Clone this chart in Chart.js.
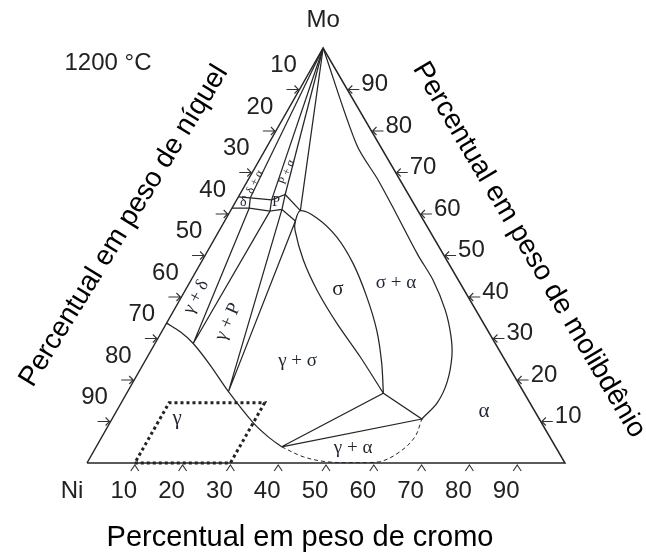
<!DOCTYPE html>
<html>
<head>
<meta charset="utf-8">
<script src="https://cdn.jsdelivr.net/npm/chart.js@4/dist/chart.umd.min.js"></script>
<style>
  html, body { margin: 0; padding: 0; background: #ffffff; }
  canvas { display: block; }
</style>
</head>
<body>
<canvas id="chart" width="646" height="556"></canvas>
<script>
// Isothermal section of the Ni–Cr–Mo system at 1200 °C.
// Every composition is [wt% Cr, wt% Mo]; nickel is the balance.

const crTicks = [10, 20, 30, 40, 50, 60, 70, 80, 90];
const niTicks = [10, 20, 30, 40, 50, 60, 70, 80, 90];
const moTicks = [10, 20, 30, 40, 50, 60, 70, 80, 90];

const triangleOutline = [[0, 0], [100, 0], [0, 100], [0, 0]];

// gamma (Ni-rich fcc) solvus
const gammaBoundary = [[0, 33.7], [3.9, 31.6], [8.0, 28.8], [14.1, 23.6], [21.1, 17.2], [30.1, 9.6], [34.8, 6.3], [38.8, 3.9]];
// uncertain gamma + alpha field limits
const gammaAlphaLimit = [[38.8, 3.9], [44.5, 1.5], [50.0, 0.3], [55.6, 0.1], [61.1, 0.3], [64.1, 2.7], [65.5, 6.3], [64.8, 10.6]];
// sigma single-phase lens, from its gamma corner up and back down
const sigmaField = [[53.7, 16.8], [44.5, 25.6], [35.6, 33.7], [27.5, 41.7], [21.1, 48.9], [15.8, 56.1], [14.8, 58.3], [14.6, 60.8],
                    [19.0, 59.0], [25.3, 54.5], [31.9, 48.1], [38.7, 40.1], [44.8, 32.0], [49.8, 24.0], [53.7, 16.8]];
// alpha (bcc) solvus from the Mo corner down to the three-phase corner
const alphaBoundary = [[0, 100], [18.6, 76.6], [27.2, 68.2], [34.9, 60.2], [44.5, 50.1], [50.6, 44.1], [56.7, 36.9], [60.9, 30.8],
                       [63.6, 25.8], [65.7, 19.5], [66.1, 14.5], [64.8, 10.6]];
// gamma + sigma + alpha three-phase triangle
const gammaSigmaAlpha = [[38.8, 3.9], [53.7, 16.8], [64.8, 10.6], [38.8, 3.9]];

// delta and P intermetallic fields near the Ni–Mo side
const deltaField = [[0, 64.1], [2.6, 63.9], [3.6, 61.4], [0, 61.4]];
const pField = [[7.3, 63.4], [9.5, 64.7], [10.6, 61.1], [8.3, 60.7], [7.3, 63.4]];
const deltaPUpper = [[2.6, 63.9], [7.3, 63.4]];
const deltaPLower = [[3.6, 61.4], [8.3, 60.7]];
const pSigmaUpper = [[9.5, 64.7], [14.6, 60.8]];
const pSigmaLower = [[10.6, 61.1], [14.8, 58.3]];
// tie lines fanning out of the Mo-rich alpha corner
const alphaDeltaTie = [[0, 100], [2.6, 63.9]];
const alphaPLeftTie = [[0, 100], [7.3, 63.4]];
const alphaPRightTie = [[0, 100], [9.5, 64.7]];
const alphaSigmaTie = [[0, 100], [14.6, 60.8]];
// three-phase triangles touching the gamma solvus
const gammaDeltaP = [[3.6, 61.4], [8.0, 28.8], [8.3, 60.7]];
const gammaPSigma = [[10.6, 61.1], [21.1, 17.2], [14.8, 58.3]];

// commercial alloy window (10–30 Cr, 0–14.5 Mo)
const alloyWindow = [[10, 0], [30, 0], [30, 14.5], [10, 14.5], [10, 0]];

// Mo leans the apex slightly left of the Cr midpoint
const SKEW = 0.494;
const toXY = pts => pts.map(([cr, mo]) => ({ x: cr + SKEW * mo, y: mo }));

const INK = '#262626';
function curve(pts, extra) {
  return Object.assign({
    data: toXY(pts), showLine: true, pointRadius: 0, borderColor: INK,
    borderWidth: 1.25, tension: 0, fill: false, clip: false
  }, extra || {});
}

const datasets = [
  curve(triangleOutline, { borderWidth: 1.5 }),
  curve(gammaBoundary, { tension: 0.3 }),
  curve(gammaAlphaLimit, { tension: 0.35, borderDash: [4, 3], borderWidth: 1 }),
  curve(sigmaField, { tension: 0.3 }),
  curve(alphaBoundary, { tension: 0.3 }),
  curve(gammaSigmaAlpha),
  curve(deltaField),
  curve(pField),
  curve(deltaPUpper), curve(deltaPLower),
  curve(pSigmaUpper), curve(pSigmaLower),
  curve(alphaDeltaTie), curve(alphaPLeftTie), curve(alphaPRightTie), curve(alphaSigmaTie),
  curve(gammaDeltaP), curve(gammaPSigma),
  curve(alloyWindow, { borderDash: [3, 3], borderWidth: 3, borderColor: '#222', borderCapStyle: 'butt' })
];

// field names, placed at a composition inside each field
const phaseLabels = [
  { text: 'γ + σ', at: [31.9, 24.6], size: 19 },
  { text: 'σ', at: [31.8, 41.9], size: 21 },
  { text: 'σ + α', at: [43.2, 43.4], size: 19 },
  { text: 'γ + α', at: [53.9, 3.6], size: 19 },
  { text: 'α', at: [76.9, 12.5], size: 21 },
  { text: 'γ', at: [13.5, 10.8], size: 21 },
  { text: 'γ + δ', at: [3.1, 40.0], size: 18, angle: -62 },
  { text: 'γ + P', at: [12.7, 34.0], size: 19, angle: -66 },
  { text: 'δ + α', at: [1.7, 67.7], size: 12, angle: -64 },
  { text: 'P + α', at: [7.2, 70.1], size: 12, angle: -68 },
  { text: 'δ', at: [1.7, 62.7], size: 14 },
  { text: 'P', at: [8.5, 62.9], size: 14 }
];

const SANS = '"Liberation Sans", Arial, Helvetica, sans-serif';
const SERIF = '"Liberation Serif", "Times New Roman", serif';

const ternaryFrame = {
  id: 'ternaryFrame',
  afterDatasetsDraw(chart) {
    const { ctx } = chart;
    const xs = chart.scales.x, ys = chart.scales.y;
    const at = (cr, mo) => ({ x: xs.getPixelForValue(cr + SKEW * mo), y: ys.getPixelForValue(mo) });
    ctx.save();
    ctx.strokeStyle = '#333';
    ctx.lineWidth = 1.1;
    ctx.fillStyle = '#222';
    ctx.font = '24px ' + SANS;
    ctx.textBaseline = 'middle';

    // Cr scale along the base
    ctx.textAlign = 'center';
    crTicks.forEach(v => {
      const p = at(v, 0);
      ctx.beginPath();
      ctx.moveTo(p.x - 4, p.y + 8); ctx.lineTo(p.x, p.y + 2); ctx.lineTo(p.x + 4, p.y + 8);
      ctx.stroke();
      ctx.fillText(String(v), p.x - 11, p.y + 28);
    });

    // Ni scale along the Ni–Mo side
    niTicks.forEach(v => {
      const p = at(0, 100 - v);
      ctx.beginPath();
      ctx.moveTo(p.x - 13, p.y); ctx.lineTo(p.x - 1, p.y);
      ctx.moveTo(p.x - 5, p.y - 4); ctx.lineTo(p.x - 1, p.y); ctx.lineTo(p.x - 5, p.y + 4);
      ctx.stroke();
      ctx.fillText(String(v), p.x - 16, p.y - 24);
    });

    // Mo scale along the Cr–Mo side
    ctx.textAlign = 'left';
    moTicks.forEach(v => {
      const p = at(100 - v, v);
      ctx.beginPath();
      ctx.moveTo(p.x + 1, p.y); ctx.lineTo(p.x + 12, p.y);
      ctx.moveTo(p.x + 5, p.y - 4); ctx.lineTo(p.x + 1, p.y); ctx.lineTo(p.x + 5, p.y + 4);
      ctx.stroke();
      ctx.fillText(String(v), p.x + 14, p.y - 5);
    });

    // corner names and temperature
    const ni = at(0, 0), mo = at(0, 100);
    ctx.textAlign = 'center';
    ctx.fillText('Mo', mo.x, mo.y - 28);
    ctx.fillText('Ni', ni.x - 15, ni.y + 28);
    ctx.fillText('1200 °C', 108, 63);

    // phase field labels
    ctx.fillStyle = '#1f2533';
    phaseLabels.forEach(l => {
      const p = at(l.at[0], l.at[1]);
      ctx.save();
      ctx.translate(p.x, p.y);
      if (l.angle) ctx.rotate(l.angle * Math.PI / 180);
      ctx.font = l.size + 'px ' + SERIF;
      ctx.fillText(l.text, 0, 0);
      ctx.restore();
    });

    // axis titles
    ctx.fillStyle = '#000';
    ctx.font = '29px ' + SANS;
    ctx.fillText('Percentual em peso de cromo', 300, 538);
    ctx.font = '28px ' + SANS;
    ctx.save();
    ctx.translate(124, 226);
    ctx.rotate(-58.3 * Math.PI / 180);
    ctx.fillText('Percentual em peso de níquel', 0, 0);
    ctx.restore();
    ctx.save();
    ctx.translate(529, 250);
    ctx.rotate(59.4 * Math.PI / 180);
    ctx.fillText('Percentual em peso de molibdênio', 0, 0);
    ctx.restore();
    ctx.restore();
  }
};

new Chart(document.getElementById('chart'), {
  type: 'scatter',
  data: { datasets },
  options: {
    responsive: false,
    animation: false,
    devicePixelRatio: 1,
    layout: { padding: { left: 87, right: 81, top: 48, bottom: 93 } },
    scales: {
      x: { type: 'linear', min: 0, max: 100, display: false },
      y: { type: 'linear', min: 0, max: 100, display: false }
    },
    plugins: { legend: { display: false }, tooltip: { enabled: false } }
  },
  plugins: [ternaryFrame]
});
</script>
</body>
</html>
